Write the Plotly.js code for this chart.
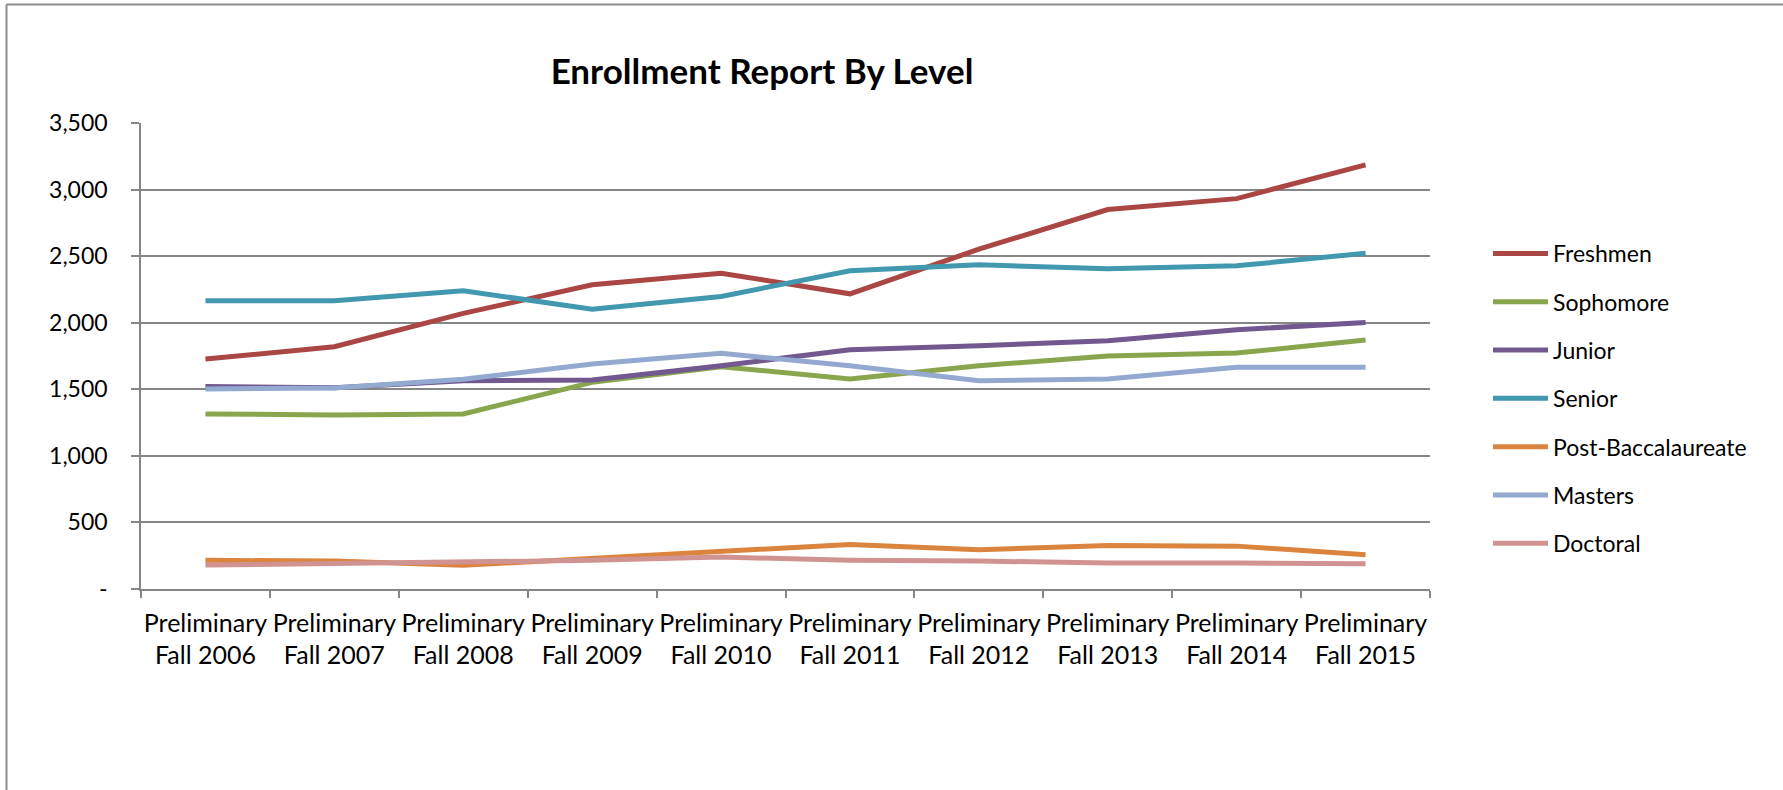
<!DOCTYPE html>
<html>
<head>
<meta charset="utf-8">
<script src="https://cdn.plot.ly/plotly-3.0.1.min.js"></script>
<style>
  html, body { margin: 0; padding: 0; background: #fff; }
  #chart { width: 1783px; height: 790px; }
</style>
</head>
<body>
<div id="chart"></div>
<script>
// ---- Data ----
const categories = [
  "Preliminary<br>Fall 2006", "Preliminary<br>Fall 2007", "Preliminary<br>Fall 2008",
  "Preliminary<br>Fall 2009", "Preliminary<br>Fall 2010", "Preliminary<br>Fall 2011",
  "Preliminary<br>Fall 2012", "Preliminary<br>Fall 2013", "Preliminary<br>Fall 2014",
  "Preliminary<br>Fall 2015"
];
const freshmen    = [1727, 1820, 2070, 2285, 2372, 2217, 2552, 2850, 2932, 3185];
const sophomore   = [1315, 1307, 1315, 1552, 1670, 1577, 1677, 1750, 1772, 1870];
const junior      = [1520, 1512, 1565, 1570, 1677, 1797, 1827, 1865, 1947, 2002];
const senior      = [2165, 2165, 2240, 2102, 2197, 2390, 2435, 2405, 2427, 2522];
const postBacc    = [215, 210, 178, 232, 277, 335, 295, 327, 322, 257];
const masters     = [1502, 1510, 1575, 1690, 1770, 1677, 1565, 1577, 1665, 1665];
const doctoral    = [180, 190, 202, 215, 240, 215, 210, 195, 195, 190];

const seriesNames = ["Freshmen", "Sophomore", "Junior", "Senior", "Post-Baccalaureate", "Masters", "Doctoral"];
const seriesValues = [freshmen, sophomore, junior, senior, postBacc, masters, doctoral];
const seriesColors = ["#AA4643", "#89A54E", "#71588F", "#4198AF", "#DB843D", "#93A9CF", "#D19392"];

const yTickVals = [0, 500, 1000, 1500, 2000, 2500, 3000, 3500];
const yTickText = ["-", "500", "1,000", "1,500", "2,000", "2,500", "3,000", "3,500"];

const FONT = "Lato, 'Open Sans', sans-serif";

const traces = seriesNames.map((name, i) => ({
  type: "scatter",
  mode: "lines",
  name: name,
  x: categories,
  y: seriesValues[i],
  legendgroup: "g" + i,
  line: { color: seriesColors[i], width: 5 },
  hoverinfo: "x+y+name"
}));

// plot area in pixels: x 141..1430, y 123..589
const L = 141, R = 1430, T = 123, B = 589;
const px2x = p => (p - L) / (R - L);
const py2y = p => (B - p) / (B - T);

const borderColor = "#8c8c8c";

const layout = {
  width: 1783,
  height: 790,
  margin: { l: L, r: 1783 - R, t: T, b: 790 - B, pad: 0 },
  paper_bgcolor: "#ffffff",
  plot_bgcolor: "#ffffff",
  font: { family: FONT, size: 23, color: "#000000" },
  title: {
    text: "<b>Enrollment Report By Level</b>",
    font: { family: FONT, size: 35, color: "#000000" },
    xref: "container", x: 762 / 1783, xanchor: "center",
    yref: "container", y: 1 - 72 / 790, yanchor: "middle"
  },
  xaxis: {
    type: "category",
    range: [-0.5, 9.5],
    showgrid: false,
    showline: true, linecolor: "#868686", linewidth: 1.5,
    ticks: "outside", tickson: "boundaries", ticklen: 7, tickcolor: "#868686", tickwidth: 1.5,
    tickfont: { family: FONT, size: 25, color: "#000000" },
    tickangle: 0,
    ticklabelstandoff: 11,
    zeroline: false,
    fixedrange: true
  },
  yaxis: {
    range: [0, 3500],
    tickvals: yTickVals,
    ticktext: yTickText,
    showgrid: true, gridcolor: "#868686", gridwidth: 1.5,
    showline: true, linecolor: "#868686", linewidth: 1.5,
    ticks: "outside", ticklen: 8, tickcolor: "#868686", tickwidth: 1.5,
    tickfont: { family: FONT, size: 23, color: "#000000" },
    ticklabelstandoff: 19,
    zeroline: false,
    fixedrange: true
  },
  showlegend: true,
  legend: {
    xref: "paper", x: px2x(1488), xanchor: "left",
    yref: "paper", y: py2y(232), yanchor: "top",
    font: { family: FONT, size: 23, color: "#000000" },
    bgcolor: "rgba(0,0,0,0)",
    borderwidth: 0,
    itemwidth: 55,
    tracegroupgap: 15.4,
    traceorder: "grouped"
  },
  shapes: [
    { type: "line", xref: "paper", yref: "paper",
      x0: px2x(6.5), x1: px2x(1783), y0: py2y(4.5), y1: py2y(4.5),
      line: { color: borderColor, width: 2 } },
    { type: "line", xref: "paper", yref: "paper",
      x0: px2x(6.5), x1: px2x(6.5), y0: py2y(4.5), y1: py2y(790),
      line: { color: borderColor, width: 2 } }
  ],
  hovermode: "closest"
};

Plotly.newPlot("chart", traces, layout, { displayModeBar: false, staticPlot: false });
</script>
</body>
</html>
